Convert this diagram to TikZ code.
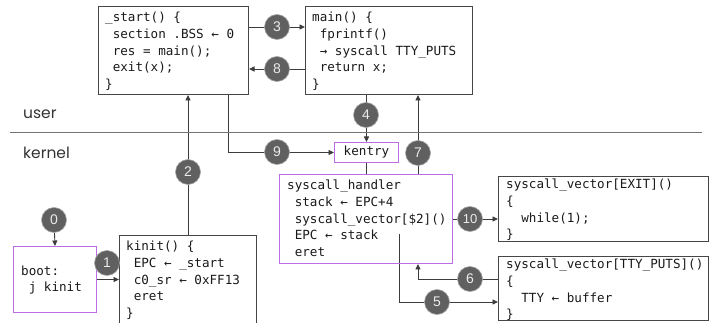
\documentclass[tikz,border=0pt]{standalone}
\usepackage{fontspec}
\usetikzlibrary{arrows.meta,calc}
\newfontfamily\codefont{DejaVu Sans Mono}
\newfontfamily\labelfont{Poppins}
\newfontfamily\numfont{Liberation Sans}
\newcommand\pad{\phantom{x}}
\definecolor{boxgray}{RGB}{70,70,70}
\definecolor{linegray}{RGB}{60,60,60}
\definecolor{kpurple}{RGB}{185,110,228}
\definecolor{dotgray}{RGB}{96,96,96}
\definecolor{textdark}{RGB}{25,25,25}
\pgfdeclarelayer{bg}
\pgfsetlayers{bg,main}
\tikzset{
  box/.style={draw=boxgray, line width=1pt, anchor=north west, inner sep=0pt},
  kbox/.style={box, draw=kpurple},
  code/.style={font=\codefont\fontsize{12.6}{16.7}\selectfont, align=left,
    inner sep=0pt, anchor=north west, text=textdark},
  stepdot/.style={circle, fill=dotgray, draw=gray!70, line width=0.6pt,
    minimum size=25pt, inner sep=0pt, text=white!92!black,
    font=\numfont\fontsize{14}{14}\selectfont},
  arr/.style={draw=linegray, line width=0.9pt,
    -{Triangle[length=5.5pt,width=5pt]}},
  plain/.style={draw=linegray, line width=0.9pt},
  realm/.style={font=\labelfont\fontsize{15.5}{16}\selectfont, text=black!80,
    anchor=base west, inner sep=0pt}
}
\begin{document}
\begin{tikzpicture}[x=1pt, y=-1pt]
\useasboundingbox (0,0) rectangle (715,323);
\clip (0,0) rectangle (715,323);

% user / kernel divider
\coordinate (divL) at (10,133);
\coordinate (divR) at (702,133);
\draw[draw=gray!90!black, line width=1pt] (divL) -- (divR);
\node[realm] (luser) at (23,119) {user};
\node[realm] (lkernel) at (23,159) {kernel};

% boxes
\node[box, minimum width=150pt, minimum height=88pt] (start) at (98,6) {};
\node[box, minimum width=167pt, minimum height=88pt] (main) at (305,6) {};
\node[kbox, minimum width=64pt, minimum height=20pt] (kentry) at (334,142) {};
\node[kbox, minimum width=173pt, minimum height=89pt] (handler) at (279,174) {};
\node[box, minimum width=137pt, minimum height=100pt] (kinit) at (119,235) {};
\node[kbox, minimum width=83pt, minimum height=66pt] (boot) at (13,246) {};
\node[box, minimum width=210pt, minimum height=65pt] (vexit) at (498,176) {};
\node[box, minimum width=210pt, minimum height=64pt] (vtty) at (498,256) {};

% box contents
\node[code] (tstart) at (105,12) {\_start() \{\\
\pad section .BSS ← 0\\
\pad res = main();\\
\pad exit(x);\\
\}};
\node[code] (tmain) at (312,12) {main() \{\\
\pad fprintf()\\
\pad → syscall TTY\_PUTS\\
\pad return x;\\
\}};
\node[code, anchor=center] (tkentry) at (kentry.center) {kentry};
\node[code] (thandler) at (287,180) {syscall\_handler\\
\pad stack ← EPC+4\\
\pad syscall\_vector[\$2]()\\
\pad EPC ← stack\\
\pad eret};
\node[code] (tkinit) at (126,241) {kinit() \{\\
\pad EPC ← \_start\\
\pad c0\_sr ← 0xFF13\\
\pad eret\\
\}};
\node[code, anchor=west] (tboot) at (21,280) {boot:\\
\pad j kinit};
\node[code] (texit) at (506,179) {syscall\_vector[EXIT]()\\
\{\\
\pad\pad while(1);\\
\}};
\node[code] (ttty) at (506,259) {syscall\_vector[TTY\_PUTS]()\\
\{\\
\pad\pad TTY ← buffer\\
\}};

% numbered steps
\node[stepdot] (c0) at (54,220) {0};
\node[stepdot] (c1) at (107,263) {1};
\node[stepdot] (c2) at (188,172) {2};
\node[stepdot] (c3) at (277,27) {3};
\node[stepdot] (c4) at (366,115) {4};
\node[stepdot] (c5) at (437,302) {5};
\node[stepdot] (c6) at (470,279) {6};
\node[stepdot] (c7) at (418,153) {7};
\node[stepdot] (c8) at (277,69) {8};
\node[stepdot] (c9) at (277,152) {9};
\node[stepdot, font=\numfont\fontsize{13}{13}\selectfont] (c10) at (470,219) {10};

% control flow
\coordinate (s9) at (228,94);
\coordinate (h5) at (399,234);
\begin{pgfonlayer}{bg}
\draw[arr] (c0) -- (boot.north);
\draw[arr] (boot.east) -- (kinit.west |- boot.east);
\draw[arr] (kinit.north) -- (kinit.north |- start.south);
\draw[arr] (start.east |- c3) -- (main.west |- c3);
\draw[arr] (kentry.north |- main.south) -- (kentry.north);
\draw[plain] (kentry.south) -- (kentry.south |- handler.north);
\draw[arr] (h5) |- (vtty.west |- c5);
\draw[arr] (vtty.west |- c6) -| (handler.south -| c7);
\draw[arr] (handler.north -| c7) -- (main.south -| c7);
\draw[arr] (main.west |- c8) -- (start.east |- c8);
\draw[arr] (s9) |- (kentry.west);
\draw[arr] (handler.east |- c10) -- (vexit.west |- c10);
\end{pgfonlayer}
\end{tikzpicture}
\end{document}
